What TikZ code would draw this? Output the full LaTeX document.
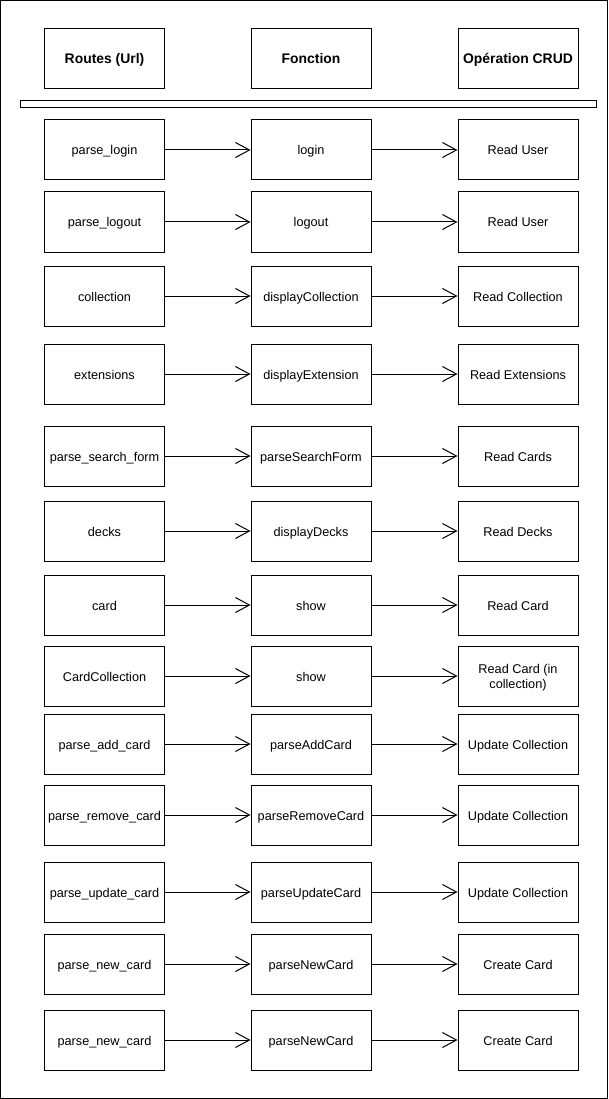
\documentclass[tikz,border=0pt]{standalone}
\usepackage{fontspec}
\setmainfont{Liberation Sans}
\usetikzlibrary{arrows.meta}
\begin{document}
\begin{tikzpicture}[x=1pt,y=-1pt,
  box/.style={draw, line width=1pt, minimum width=120pt, minimum height=60pt, inner sep=0pt, align=center, font=\fontsize{12.7}{15}\selectfont},
  one/.style={text height=12.5pt, text depth=2.5pt},
  hdr/.style={box, one, font=\bfseries\fontsize{13.9}{16}\selectfont},
  conn/.style={line width=1pt, -{Straight Barb[length=14pt,width=15pt,line width=1pt]}}]
\useasboundingbox (0,0) rectangle (609,1099);
\draw[line width=1pt] (0.5,0.5) rectangle (607.5,1098.5);
\node[hdr] (h1) at (104.5,59) {Routes (Url)};
\node[hdr] (h2) at (311,59) {Fonction};
\node[hdr] (h3) at (518,59) {Opération CRUD};
\node[draw, line width=1pt, minimum width=576pt, minimum height=7pt, inner sep=0pt] (sep) at (308,104.5) {};
\foreach \i/\y/\a/\b/\c in {
 1/150/parse\_login/login/Read User,
 2/222/parse\_logout/logout/Read User,
 3/296/collection/displayCollection/Read Collection,
 4/374/extensions/displayExtension/Read Extensions,
 5/456/parse\_search\_form/parseSearchForm/Read Cards,
 6/531/decks/displayDecks/Read Decks,
 7/605/card/show/Read Card,
 9/744/parse\_add\_card/parseAddCard/Update Collection,
 10/815/parse\_remove\_card/parseRemoveCard/Update Collection,
 11/892/parse\_update\_card/parseUpdateCard/Update Collection,
 12/964/parse\_new\_card/parseNewCard/Create Card,
 13/1040/parse\_new\_card/parseNewCard/Create Card}{
  \node[box, one] (l\i) at (104.5,\y) {\a};
  \node[box, one] (m\i) at (311,\y) {\b};
  \node[box, one] (r\i) at (518,\y) {\c};
  \draw[conn] (l\i) -- (m\i);
  \draw[conn] (m\i) -- (r\i);
}
\node[box, one] (l8) at (104.5,676) {CardCollection};
\node[box, one] (m8) at (311,676) {show};
\node[box, label={[yshift=-2pt, align=center, font=\fontsize{12.7}{15}\selectfont]center:Read Card (in\\collection)}] (r8) at (518,676) {};
\draw[conn] (l8) -- (m8);
\draw[conn] (m8) -- (r8);
\end{tikzpicture}
\end{document}
